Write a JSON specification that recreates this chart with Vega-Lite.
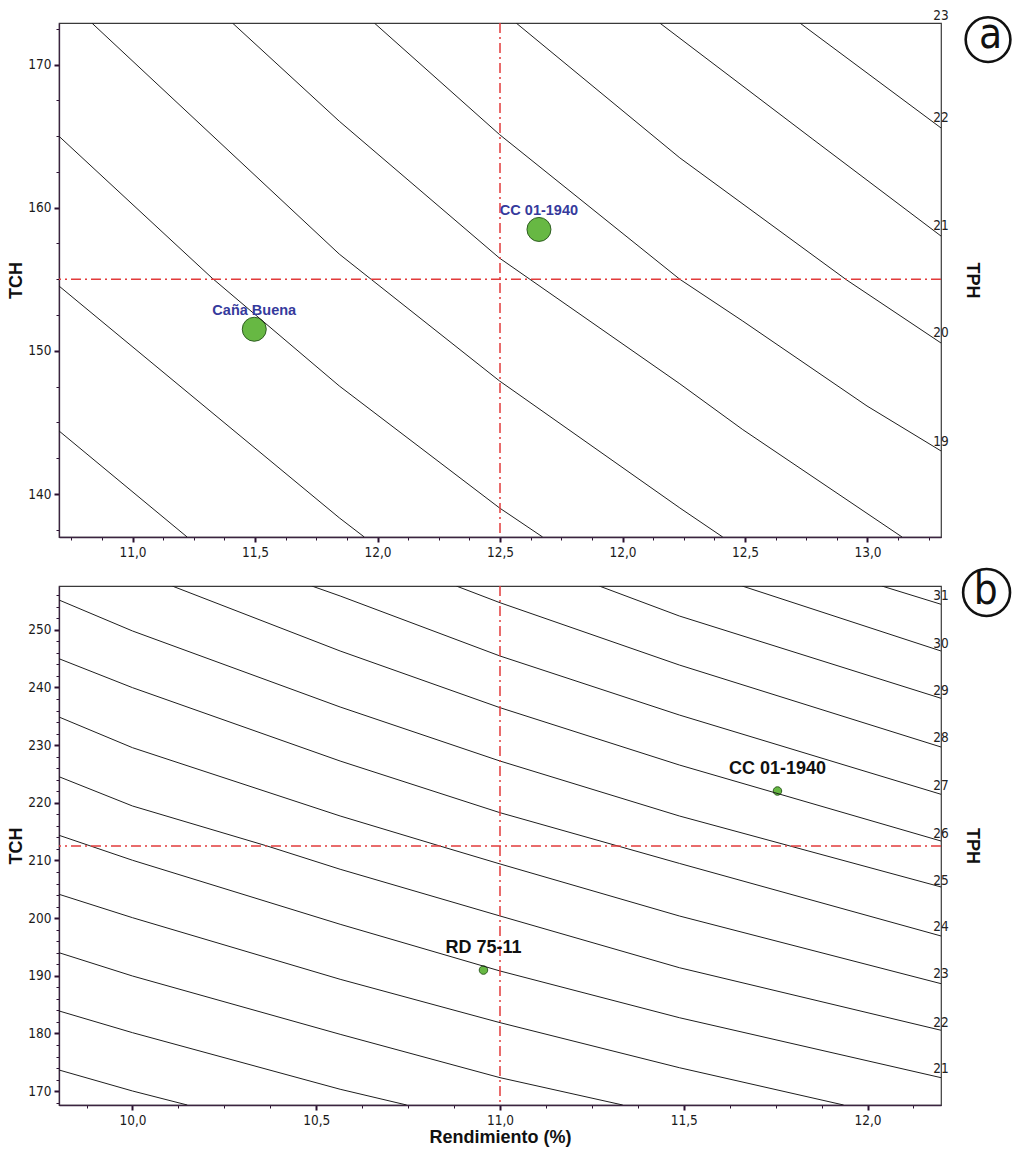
{
  "$schema": "https://vega.github.io/schema/vega-lite/v6.json",
  "background": "white",
  "padding": {"left": 7, "top": 8, "right": 0, "bottom": 0},
  "config": {
    "view": {"stroke": "#3a3a3a", "strokeWidth": 1.2},
    "axis": {
      "labelFont": "Liberation Sans Narrow, Arial Narrow, DejaVu Sans Condensed, sans-serif",
      "labelFontSize": 13.5, "labelColor": "#1a1a1a",
      "titleFont": "Liberation Sans, Arial, sans-serif", "titleFontSize": 18, "titleFontWeight": "bold", "titleColor": "#111",
      "domainColor": "#3b2440", "domainWidth": 1.3, "tickColor": "#2a1030", "tickWidth": 2, "tickSize": 5,
      "grid": false, "labelPadding": 3
    }
  },
  "datasets": {
    "contA": [
      {"c": "a1", "x": 10.7, "y": 144.41}, {"c": "a1", "x": 11.223, "y": 137.0},
      {"c": "a2", "x": 10.7, "y": 154.53}, {"c": "a2", "x": 11.844, "y": 138.34}, {"c": "a2", "x": 11.946, "y": 137.0},
      {"c": "a3", "x": 10.7, "y": 164.99}, {"c": "a3", "x": 11.325, "y": 155.08}, {"c": "a3", "x": 11.844, "y": 147.55}, {"c": "a3", "x": 12.498, "y": 139.03}, {"c": "a3", "x": 12.674, "y": 137.0},
      {"c": "a4", "x": 10.834, "y": 172.9}, {"c": "a4", "x": 11.844, "y": 156.76}, {"c": "a4", "x": 12.498, "y": 147.9}, {"c": "a4", "x": 13.234, "y": 139.03}, {"c": "a4", "x": 13.409, "y": 137.0},
      {"c": "a5", "x": 11.408, "y": 172.9}, {"c": "a5", "x": 11.844, "y": 166.04}, {"c": "a5", "x": 12.498, "y": 156.48}, {"c": "a5", "x": 13.234, "y": 147.7}, {"c": "a5", "x": 13.491, "y": 144.5}, {"c": "a5", "x": 14.141, "y": 137.0},
      {"c": "a6", "x": 11.987, "y": 172.9}, {"c": "a6", "x": 12.498, "y": 165.11}, {"c": "a6", "x": 13.234, "y": 155.0}, {"c": "a6", "x": 13.491, "y": 152.08}, {"c": "a6", "x": 13.998, "y": 146.15}, {"c": "a6", "x": 14.3, "y": 143.01},
      {"c": "a7", "x": 12.566, "y": 172.9}, {"c": "a7", "x": 13.234, "y": 163.48}, {"c": "a7", "x": 13.916, "y": 154.94}, {"c": "a7", "x": 14.3, "y": 150.55},
      {"c": "a8", "x": 13.152, "y": 172.9}, {"c": "a8", "x": 13.777, "y": 164.78}, {"c": "a8", "x": 14.3, "y": 158.02},
      {"c": "a9", "x": 13.724, "y": 172.9}, {"c": "a9", "x": 14.3, "y": 165.57}
    ],
    "contB": [
      {"c": "17", "x": 9.8, "y": 173.67}, {"c": "17", "x": 10.0, "y": 170.03}, {"c": "17", "x": 10.149, "y": 167.6},
      {"c": "18", "x": 9.8, "y": 183.91}, {"c": "18", "x": 10.0, "y": 180.14}, {"c": "18", "x": 10.565, "y": 170.33}, {"c": "18", "x": 10.746, "y": 167.6},
      {"c": "19", "x": 9.8, "y": 194.01}, {"c": "19", "x": 10.0, "y": 189.97}, {"c": "19", "x": 10.565, "y": 179.86}, {"c": "19", "x": 11.0, "y": 172.34}, {"c": "19", "x": 11.334, "y": 167.6},
      {"c": "20", "x": 9.8, "y": 204.14}, {"c": "20", "x": 10.0, "y": 200.08}, {"c": "20", "x": 10.565, "y": 189.4}, {"c": "20", "x": 11.0, "y": 181.88}, {"c": "20", "x": 11.488, "y": 174.07}, {"c": "20", "x": 11.935, "y": 167.6},
      {"c": "21", "x": 9.8, "y": 214.37}, {"c": "21", "x": 10.0, "y": 210.04}, {"c": "21", "x": 10.565, "y": 198.94}, {"c": "21", "x": 11.0, "y": 190.84}, {"c": "21", "x": 11.488, "y": 182.74}, {"c": "21", "x": 12.2, "y": 172.34},
      {"c": "22", "x": 9.8, "y": 224.53}, {"c": "22", "x": 10.0, "y": 219.45}, {"c": "22", "x": 10.366, "y": 212.52}, {"c": "22", "x": 10.565, "y": 208.48}, {"c": "22", "x": 11.0, "y": 200.38}, {"c": "22", "x": 11.488, "y": 191.41}, {"c": "22", "x": 12.2, "y": 180.56},
      {"c": "23", "x": 9.8, "y": 234.88}, {"c": "23", "x": 10.0, "y": 229.56}, {"c": "23", "x": 10.565, "y": 217.72}, {"c": "23", "x": 10.836, "y": 212.52}, {"c": "23", "x": 11.0, "y": 209.4}, {"c": "23", "x": 11.488, "y": 200.38}, {"c": "23", "x": 12.2, "y": 188.64},
      {"c": "24", "x": 9.8, "y": 244.99}, {"c": "24", "x": 10.0, "y": 239.97}, {"c": "24", "x": 10.565, "y": 227.25}, {"c": "24", "x": 11.0, "y": 218.29}, {"c": "24", "x": 11.488, "y": 209.5}, {"c": "24", "x": 12.2, "y": 196.91},
      {"c": "25", "x": 9.8, "y": 255.17}, {"c": "25", "x": 10.0, "y": 249.8}, {"c": "25", "x": 10.565, "y": 236.62}, {"c": "25", "x": 11.0, "y": 227.25}, {"c": "25", "x": 11.488, "y": 217.72}, {"c": "25", "x": 12.2, "y": 205.41},
      {"c": "26", "x": 10.108, "y": 257.6}, {"c": "26", "x": 10.565, "y": 246.33}, {"c": "26", "x": 11.0, "y": 236.5}, {"c": "26", "x": 11.488, "y": 226.56}, {"c": "26", "x": 12.2, "y": 213.38},
      {"c": "27", "x": 10.488, "y": 257.6}, {"c": "27", "x": 10.565, "y": 255.87}, {"c": "27", "x": 11.0, "y": 245.46}, {"c": "27", "x": 11.488, "y": 235.23}, {"c": "27", "x": 12.2, "y": 221.48},
      {"c": "28", "x": 10.881, "y": 257.6}, {"c": "28", "x": 11.0, "y": 254.7}, {"c": "28", "x": 11.488, "y": 243.9}, {"c": "28", "x": 12.2, "y": 229.68},
      {"c": "29", "x": 11.27, "y": 257.6}, {"c": "29", "x": 11.488, "y": 252.4}, {"c": "29", "x": 12.2, "y": 238.13},
      {"c": "30", "x": 11.659, "y": 257.6}, {"c": "30", "x": 12.2, "y": 246.33},
      {"c": "31", "x": 12.039, "y": 257.6}, {"c": "31", "x": 12.2, "y": 254.43}
    ],
    "labA": [
      {"t": "23", "x": 14.3, "y": 173.37}, {"t": "22", "x": 14.3, "y": 166.25}, {"t": "21", "x": 14.3, "y": 158.71},
      {"t": "20", "x": 14.3, "y": 151.25}, {"t": "19", "x": 14.3, "y": 143.64}
    ],
    "labB": [
      {"t": "31", "x": 12.2, "y": 255.87}, {"t": "30", "x": 12.2, "y": 247.49}, {"t": "29", "x": 12.2, "y": 239.39},
      {"t": "28", "x": 12.2, "y": 231.19}, {"t": "27", "x": 12.2, "y": 222.92}, {"t": "26", "x": 12.2, "y": 214.65},
      {"t": "25", "x": 12.2, "y": 206.45}, {"t": "24", "x": 12.2, "y": 198.47}, {"t": "23", "x": 12.2, "y": 190.27},
      {"t": "22", "x": 12.2, "y": 181.88}, {"t": "21", "x": 12.2, "y": 173.79}
    ],
    "ptsA": [
      {"name": "Caña Buena", "rend": 11.497, "tch": 151.51},
      {"name": "CC 01-1940", "rend": 12.659, "tch": 158.48}
    ],
    "ptsB": [
      {"name": "RD 75-11", "rend": 10.955, "tch": 191.0},
      {"name": "CC 01-1940", "rend": 11.755, "tch": 222.05}
    ]
  },
  "vconcat": [
    {
      "width": 882, "height": 514,
      "layer": [
        {
          "data": {"name": "ptsA"},
          "mark": {"type": "point", "shape": "circle", "filled": true, "fill": "#67b843", "stroke": "#2f5e22", "strokeWidth": 1, "size": 575, "opacity": 1},
          "encoding": {
            "x": {"field": "rend", "type": "quantitative", "scale": {"domain": [10.7, 14.3], "nice": false, "zero": false},
                  "axis": {"orient": "bottom", "values": [10.75, 10.875, 11.125, 11.25, 11.375, 11.625, 11.75, 11.875, 12.125, 12.25, 12.375, 12.625, 12.75, 12.875, 13.125, 13.25, 13.375, 13.625, 13.75, 13.875, 14.125, 14.25], "labels": false, "domain": false, "tickSize": 3, "tickWidth": 1, "title": null}},
            "y": {"field": "tch", "type": "quantitative", "scale": {"domain": [137, 172.9], "nice": false, "zero": false},
                  "axis": {"orient": "left", "values": [137.5, 142.5, 145, 147.5, 152.5, 155, 157.5, 162.5, 165, 167.5, 172.5], "labels": false, "domain": false, "tickSize": 3, "tickWidth": 1, "title": null}}
          }
        },
        {
          "data": {"name": "contA"},
          "mark": {"type": "line", "color": "#1e1e1e", "strokeWidth": 1, "clip": true},
          "encoding": {
            "x": {"field": "x", "type": "quantitative", "scale": {"domain": [10.7, 14.3], "nice": false, "zero": false},
                  "axis": {"orient": "bottom", "values": [11, 11.5, 12, 12.5, 13, 13.5, 14], "title": null,
                           "labelExpr": "datum.value == 13 ? '12,0' : datum.value == 13.5 ? '12,5' : datum.value == 14 ? '13,0' : replace(format(datum.value, '.1f'), '.', ',')"}},
            "y": {"field": "y", "type": "quantitative", "scale": {"domain": [137, 172.9], "nice": false, "zero": false},
                  "axis": {"orient": "left", "values": [140, 150, 160, 170], "title": "TCH", "titlePadding": 2}},
            "detail": {"field": "c"}
          }
        },
        {
          "data": {"values": [{"v": 12.5}]},
          "mark": {"type": "rule", "color": "#e23b3b", "strokeWidth": 1.5, "strokeDash": [10, 4, 2, 4]},
          "encoding": {"x": {"field": "v", "type": "quantitative", "scale": {"domain": [10.7, 14.3], "nice": false, "zero": false}, "axis": null}}
        },
        {
          "data": {"values": [{"v": 155}]},
          "mark": {"type": "rule", "color": "#e23b3b", "strokeWidth": 1.5, "strokeDash": [10, 4, 2, 4]},
          "encoding": {"y": {"field": "v", "type": "quantitative", "scale": {"domain": [137, 172.9], "nice": false, "zero": false}, "axis": null}}
        },
        {
          "data": {"name": "ptsA"},
          "mark": {"type": "text", "font": "Liberation Sans, Arial, sans-serif", "fontWeight": "bold", "fontSize": 14.5, "color": "#353a9c", "dy": -18, "baseline": "middle", "align": "center"},
          "encoding": {
            "x": {"field": "rend", "type": "quantitative", "scale": {"domain": [10.7, 14.3], "nice": false, "zero": false}, "axis": null},
            "y": {"field": "tch", "type": "quantitative", "scale": {"domain": [137, 172.9], "nice": false, "zero": false}, "axis": null},
            "text": {"field": "name"}
          }
        },
        {
          "data": {"name": "labA"},
          "mark": {"type": "text", "font": "Liberation Sans Narrow, Arial Narrow, DejaVu Sans Condensed, sans-serif", "fontSize": 13.5, "color": "#222", "baseline": "middle", "align": "center", "dx": 0},
          "encoding": {
            "x": {"field": "x", "type": "quantitative", "scale": {"domain": [10.7, 14.3], "nice": false, "zero": false}, "axis": null},
            "y": {"field": "y", "type": "quantitative", "scale": {"domain": [137, 172.9], "nice": false, "zero": false},
                  "axis": {"orient": "right", "labels": false, "ticks": false, "domain": false, "title": "TPH", "titlePadding": 21, "titleAngle": 90}},
            "text": {"field": "t"}
          }
        },
        {
          "data": {"values": [{"tag": "a", "x": 14.492, "y": 171.74}]},
          "mark": {"type": "point", "shape": "circle", "filled": false, "stroke": "#111", "strokeWidth": 2.6, "size": 2000, "opacity": 1, "clip": false},
          "encoding": {
            "x": {"field": "x", "type": "quantitative", "scale": {"domain": [10.7, 14.3], "nice": false, "zero": false}, "axis": null},
            "y": {"field": "y", "type": "quantitative", "scale": {"domain": [137, 172.9], "nice": false, "zero": false}, "axis": null}
          }
        },
        {
          "data": {"values": [{"tag": "a", "x": 14.502, "y": 171.16}]},
          "mark": {"type": "text", "font": "Liberation Sans Narrow, Arial Narrow, DejaVu Sans Condensed, sans-serif", "fontSize": 42, "color": "#111", "baseline": "alphabetic", "align": "center"},
          "encoding": {
            "x": {"field": "x", "type": "quantitative", "scale": {"domain": [10.7, 14.3], "nice": false, "zero": false}, "axis": null},
            "y": {"field": "y", "type": "quantitative", "scale": {"domain": [137, 172.9], "nice": false, "zero": false}, "axis": null},
            "text": {"field": "tag"}
          }
        }
      ],
      "resolve": {"axis": {"x": "independent", "y": "independent"}}
    },
    {
      "width": 882, "height": 519,
      "layer": [
        {
          "data": {"name": "ptsB"},
          "mark": {"type": "point", "shape": "circle", "filled": true, "fill": "#67b843", "stroke": "#2f5e22", "strokeWidth": 1, "size": 72, "opacity": 1},
          "encoding": {
            "x": {"field": "rend", "type": "quantitative", "scale": {"domain": [9.8, 12.2], "nice": false, "zero": false},
                  "axis": {"orient": "bottom", "values": [9.875, 10.125, 10.25, 10.375, 10.625, 10.75, 10.875, 11.125, 11.25, 11.375, 11.625, 11.75, 11.875, 12.125], "labels": false, "domain": false, "tickSize": 3, "tickWidth": 1, "title": null}},
            "y": {"field": "tch", "type": "quantitative", "scale": {"domain": [167.6, 257.6], "nice": false, "zero": false},
                  "axis": {"orient": "left", "values": [168, 172, 174, 176, 178, 182, 184, 186, 188, 192, 194, 196, 198, 202, 204, 206, 208, 212, 214, 216, 218, 222, 224, 226, 228, 232, 234, 236, 238, 242, 244, 246, 248, 252, 254, 256], "labels": false, "domain": false, "tickSize": 3, "tickWidth": 1, "title": null}}
          }
        },
        {
          "data": {"name": "contB"},
          "mark": {"type": "line", "color": "#1e1e1e", "strokeWidth": 1, "clip": true},
          "encoding": {
            "x": {"field": "x", "type": "quantitative", "scale": {"domain": [9.8, 12.2], "nice": false, "zero": false},
                  "axis": {"orient": "bottom", "values": [10, 10.5, 11, 11.5, 12], "title": "Rendimiento (%)", "titleFontSize": 18, "titlePadding": 2,
                           "labelExpr": "replace(format(datum.value, '.1f'), '.', ',')"}},
            "y": {"field": "y", "type": "quantitative", "scale": {"domain": [167.6, 257.6], "nice": false, "zero": false},
                  "axis": {"orient": "left", "values": [170, 180, 190, 200, 210, 220, 230, 240, 250], "title": "TCH", "titlePadding": 2}},
            "detail": {"field": "c"}
          }
        },
        {
          "data": {"values": [{"v": 11.0}]},
          "mark": {"type": "rule", "color": "#e23b3b", "strokeWidth": 1.5, "strokeDash": [10, 4, 2, 4]},
          "encoding": {"x": {"field": "v", "type": "quantitative", "scale": {"domain": [9.8, 12.2], "nice": false, "zero": false}, "axis": null}}
        },
        {
          "data": {"values": [{"v": 212.5}]},
          "mark": {"type": "rule", "color": "#e23b3b", "strokeWidth": 1.5, "strokeDash": [10, 4, 2, 4]},
          "encoding": {"y": {"field": "v", "type": "quantitative", "scale": {"domain": [167.6, 257.6], "nice": false, "zero": false}, "axis": null}}
        },
        {
          "data": {"name": "ptsB"},
          "mark": {"type": "text", "font": "Liberation Sans, Arial, sans-serif", "fontWeight": "bold", "fontSize": 18, "color": "#111", "dy": -22, "baseline": "middle", "align": "center"},
          "encoding": {
            "x": {"field": "rend", "type": "quantitative", "scale": {"domain": [9.8, 12.2], "nice": false, "zero": false}, "axis": null},
            "y": {"field": "tch", "type": "quantitative", "scale": {"domain": [167.6, 257.6], "nice": false, "zero": false}, "axis": null},
            "text": {"field": "name"}
          }
        },
        {
          "data": {"name": "labB"},
          "mark": {"type": "text", "font": "Liberation Sans Narrow, Arial Narrow, DejaVu Sans Condensed, sans-serif", "fontSize": 13.5, "color": "#222", "baseline": "middle", "align": "center", "dx": 0},
          "encoding": {
            "x": {"field": "x", "type": "quantitative", "scale": {"domain": [9.8, 12.2], "nice": false, "zero": false}, "axis": null},
            "y": {"field": "y", "type": "quantitative", "scale": {"domain": [167.6, 257.6], "nice": false, "zero": false},
                  "axis": {"orient": "right", "labels": false, "ticks": false, "domain": false, "title": "TPH", "titlePadding": 21, "titleAngle": 90}},
            "text": {"field": "t"}
          }
        },
        {
          "data": {"values": [{"tag": "b", "x": 12.324, "y": 256.47}]},
          "mark": {"type": "point", "shape": "circle", "filled": false, "stroke": "#111", "strokeWidth": 2.6, "size": 2200, "opacity": 1, "clip": false},
          "encoding": {
            "x": {"field": "x", "type": "quantitative", "scale": {"domain": [9.8, 12.2], "nice": false, "zero": false}, "axis": null},
            "y": {"field": "y", "type": "quantitative", "scale": {"domain": [167.6, 257.6], "nice": false, "zero": false}, "axis": null}
          }
        },
        {
          "data": {"values": [{"tag": "b", "x": 12.322, "y": 254.48}]},
          "mark": {"type": "text", "font": "Liberation Sans Narrow, Arial Narrow, DejaVu Sans Condensed, sans-serif", "fontSize": 42, "color": "#111", "baseline": "alphabetic", "align": "center"},
          "encoding": {
            "x": {"field": "x", "type": "quantitative", "scale": {"domain": [9.8, 12.2], "nice": false, "zero": false}, "axis": null},
            "y": {"field": "y", "type": "quantitative", "scale": {"domain": [167.6, 257.6], "nice": false, "zero": false}, "axis": null},
            "text": {"field": "tag"}
          }
        }
      ],
      "resolve": {"axis": {"x": "independent", "y": "independent"}}
    }
  ],
  "spacing": 49,
  "bounds": "flush"
}
